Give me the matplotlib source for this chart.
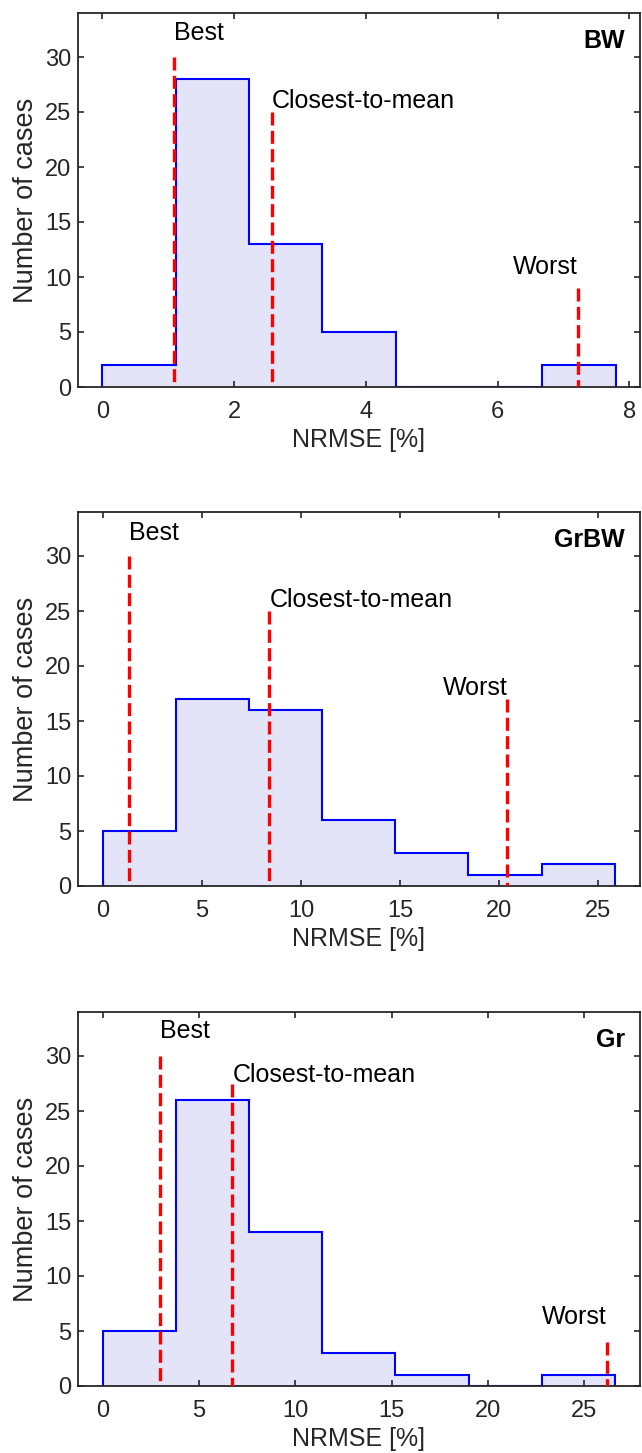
import matplotlib
matplotlib.use("Agg")
import matplotlib.pyplot as plt
import numpy as np

plt.rcParams['font.family'] = ['Liberation Sans', 'DejaVu Sans']

# ---- data ----
panel_names = ["BW", "GrBW", "Gr"]

bw_edges = [0.0, 1.113, 2.226, 3.339, 4.452, 5.565, 6.678, 7.791]
bw_counts = [2, 28, 13, 5, 0, 0, 2]
bw_marks_x = [1.08, 2.57, 7.22]        # Best, Closest-to-mean, Worst
bw_marks_h = [30, 25, 9.0]

grbw_edges = [0.0, 3.69, 7.38, 11.07, 14.76, 18.45, 22.14, 25.83]
grbw_counts = [5, 17, 16, 6, 3, 1, 2]
grbw_marks_x = [1.34, 8.41, 20.41]
grbw_marks_h = [30, 25, 17]

gr_edges = [0.0, 3.8, 7.6, 11.4, 15.2, 19.0, 22.8, 26.6]
gr_counts = [5, 26, 14, 3, 1, 0, 1]
gr_marks_x = [2.98, 6.74, 26.17]
gr_marks_h = [30, 27.5, 4.0]

mark_labels = ["Best", "Closest-to-mean", "Worst"]
y_ticks = [0, 5, 10, 15, 20, 25, 30]
x_ticks = [[0, 2, 4, 6, 8], [0, 5, 10, 15, 20, 25], [0, 5, 10, 15, 20, 25]]
x_label = "NRMSE [%]"
y_label = "Number of cases"

edges_all = [bw_edges, grbw_edges, gr_edges]
counts_all = [bw_counts, grbw_counts, gr_counts]
mx_all = [bw_marks_x, grbw_marks_x, gr_marks_x]
mh_all = [bw_marks_h, grbw_marks_h, gr_marks_h]

# ---- layout ----
W, H = 642, 1453
fig = plt.figure(figsize=(W / 100, H / 100), dpi=100)
ax_left, ax_w, ax_h = 78 / W, 562 / W, 374 / H
tops = [13, 512, 1012]

xlims = [(-0.37, 8.16), (-1.24, 27.1), (-1.28, 27.9)]
# text baseline positions (data y) for Best / Closest / Worst labels
txt_y = [[31.5, 25.4, 10.3], [31.45, 25.4, 17.4], [31.6, 27.65, 5.6]]

dark = '#262626'
for i in range(3):
    bottom = 1 - (tops[i] + 374) / H
    ax = fig.add_axes([ax_left, bottom, ax_w, ax_h])
    edges = edges_all[i]
    counts = counts_all[i]
    ax.stairs(counts, edges, fill=True, color='#E4E4F8', baseline=0, zorder=1)
    ax.stairs(counts, edges, fill=False, color='#0000FF', linewidth=1.5,
              baseline=0, zorder=2)
    for j in range(3):
        x = mx_all[i][j]
        h = mh_all[i][j]
        ax.plot([x, x], [h, 0], color='#FF0000', linewidth=2.4,
                linestyle=(0, (3.9, 1.6)), zorder=3, dash_capstyle='butt')
        ha = 'right' if j == 2 else 'left'
        ax.text(x, txt_y[i][j], mark_labels[j], ha=ha, va='baseline',
                fontsize=18, color='black')
    ax.text(0.973, 0.925, panel_names[i], transform=ax.transAxes,
            ha='right', va='center', fontsize=18, fontweight='bold')
    ax.set_xlim(*xlims[i])
    ax.set_ylim(0, 34)
    ax.set_xticks(x_ticks[i])
    ax.set_yticks(y_ticks)
    ax.tick_params(direction='in', top=True, right=True, length=4.5, width=1.2,
                   color=dark, labelcolor=dark, labelsize=17)
    ax.tick_params(axis='x', pad=10)
    ax.tick_params(axis='y', pad=5)
    for s in ax.spines.values():
        s.set_linewidth(1.3)
        s.set_color(dark)
    ax.set_xlabel(x_label, fontsize=18, color=dark, labelpad=4)
    ax.set_ylabel(y_label, fontsize=19.5, color=dark, labelpad=4)

fig.savefig("out.png", dpi=100)
